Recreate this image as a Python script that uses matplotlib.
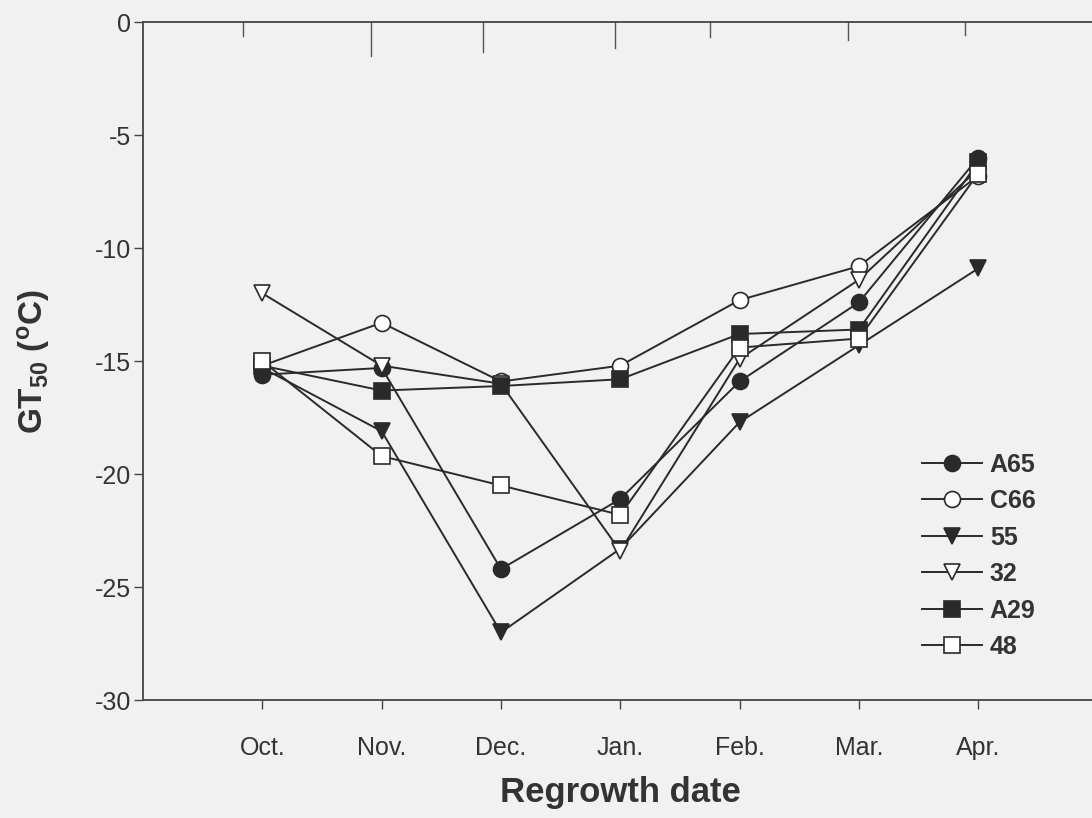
import matplotlib
matplotlib.use('Agg')
import matplotlib.pyplot as plt
import matplotlib.transforms as mtransforms

plt.rcParams['font.family'] = ['Liberation Sans', 'DejaVu Sans']
plt.rcParams['mathtext.default'] = 'regular'
plt.rcParams['axes.unicode_minus'] = False

# data
months = ['Oct.', 'Nov.', 'Dec.', 'Jan.', 'Feb.', 'Mar.', 'Apr.']
a65 = [-15.6, -15.3, -24.2, -21.1, -15.9, -12.4, -6.0]
c66 = [-15.2, -13.3, -15.9, -15.2, -12.3, -10.8, -6.8]
s55 = [-15.3, -18.1, -27.0, -23.3, -17.7, -14.3, -10.9]
s32 = [-12.0, -15.2, -16.0, -23.4, -14.9, -11.4, -6.5]
a29 = [-15.2, -16.3, -16.1, -15.8, -13.8, -13.6, -6.2]
s48 = [-15.0, -19.2, -20.5, -21.8, -14.4, -14.0, -6.7]

series = [
    ('A65', a65, 'o', True),
    ('C66', c66, 'o', False),
    ('55', s55, 'v', True),
    ('32', s32, 'v', False),
    ('A29', a29, 's', True),
    ('48', s48, 's', False),
]

# stray tick marks hanging from the top line in the scan
top_ticks = [-0.16, 0.91, 1.85, 2.96, 3.75, 4.91, 5.89]
top_len = [14, 34, 30, 26, 15, 18, 13]

ink = '#2a2a2a'
bg = '#f1f1f1'

fig = plt.figure(figsize=(10.92, 8.18), dpi=100)
fig.patch.set_facecolor(bg)
ax = fig.add_axes([0.131, 0.144, 0.874, 0.829])
ax.set_facecolor(bg)

x = list(range(len(months)))
for name, vals, mk, filled in series:
    ax.plot(x, vals, color=ink, lw=1.4, marker=mk, markersize=11.5,
            markerfacecolor=ink if filled else 'white',
            markeredgecolor=ink, markeredgewidth=1.2, label=name)

trans = mtransforms.blended_transform_factory(ax.transData, ax.transAxes)
for tx, tl in zip(top_ticks, top_len):
    ax.plot([tx, tx], [1.0, 1.0 - tl / 678.0], color='#555555', lw=1.0,
            transform=trans, clip_on=False)

ax.set_xlim(-1, 7)
ax.set_ylim(-30, 0)
ax.set_xticks(x)
ax.set_xticklabels(months)
ax.set_yticks([0, -5, -10, -15, -20, -25, -30])

for s in ['left', 'bottom', 'top']:
    ax.spines[s].set_color('#444444')
    ax.spines[s].set_linewidth(1.3)
ax.spines['right'].set_visible(False)

ax.tick_params(axis='both', direction='out', length=6.5, width=1.0,
               colors='#444444', labelsize=18, labelcolor='#333333')
ax.tick_params(axis='x', pad=19)
ax.tick_params(axis='y', pad=2)

ax.set_xlabel('Regrowth date', fontsize=25, fontweight='bold', color='#333333', labelpad=12)
ax.set_ylabel('GT$_{50}$ ($^{o}$C)', fontsize=24, fontweight='bold', color='#333333', labelpad=31)

leg = ax.legend(loc='center left', bbox_to_anchor=(0.806, 0.213), frameon=False,
                prop={'weight': 'bold', 'size': 18}, handlelength=2.4,
                labelspacing=0.5, handletextpad=0.3, borderaxespad=0.0,
                markerscale=1.0)
for t in leg.get_texts():
    t.set_color('#333333')

fig.savefig('out.png', dpi=100, facecolor=bg)
